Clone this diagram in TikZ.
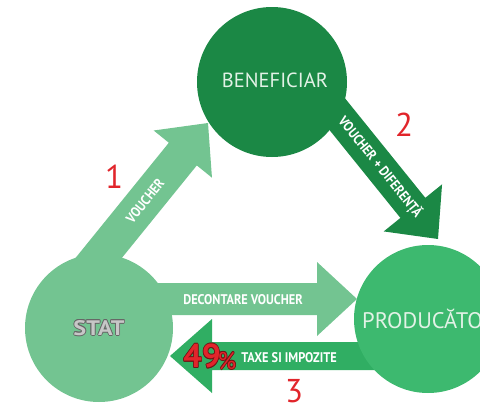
\documentclass[tikz,border=0pt]{standalone}
\usepackage{fontspec}
\usetikzlibrary{calc}
\setmainfont{PT Sans}
\newfontfamily\condf{PT Sans}[FakeStretch=0.88]
\definecolor{lightg}{HTML}{73C491}
\definecolor{darkg}{HTML}{1B8845}
\definecolor{prodg}{HTML}{3DB96F}
\definecolor{taxg}{HTML}{30AE63}
\definecolor{numred}{HTML}{E1252B}
\definecolor{labtxt}{HTML}{E2F2E6}
\newcommand\blockarrow[6]{% tail, tip, colour, shaft half width, head half width, head length
  \path (#2) coordinate (bt) ($(#2)!#6pt!(#1)$) coordinate (bh);
  \fill[#3] ($(#1)!#4pt!90:(#2)$) -- ($(bh)!#4pt!90:(bt)$) -- ($(bh)!#5pt!90:(bt)$) -- (bt)
    -- ($(bh)!#5pt!-90:(bt)$) -- ($(bh)!#4pt!-90:(bt)$) -- ($(#1)!#4pt!-90:(#2)$) -- cycle;}
\tikzset{
  circ/.style={circle, inner sep=0pt, minimum size=#1},
  arrlab/.style={text=white, font=\condf\bfseries\fontsize{14}{14}\selectfont, inner sep=0pt},
  rednum/.style={text=numred, font=\fontsize{33}{33}\selectfont, inner sep=0pt},
  biglab/.style={text=labtxt, inner sep=0pt},
  statfont/.style={font=\bfseries\fontsize{21}{21}\selectfont, inner sep=0pt},
  fortynine/.style={font=\bfseries\fontsize{33}{33}\selectfont, inner sep=0pt},
  pctfont/.style={font=\fontsize{24}{24}\selectfont, inner sep=0pt},
}
\begin{document}
\begin{tikzpicture}[x=1pt,y=-1pt]
\useasboundingbox (0,0) rectangle (480,405);
\clip (0,0) rectangle (480,405);
% circles (positions)
\node[circ=148pt, fill=lightg] (stat) at (99,328) {};
% arrow end points
\coordinate (a1s) at (63,302);
\coordinate (a1e) at (208,123);
\coordinate (a2s) at (300,68);
\coordinate (a2e) at (438,239);
\coordinate (a3s) at (130,299);
\coordinate (a3e) at (357,299);
\coordinate (a4s) at (420,356);
\coordinate (a4e) at (170,356);
% arrows
\blockarrow{a1s}{a1e}{lightg}{18}{37.5}{40}
\blockarrow{a2s}{a2e}{darkg}{16}{37.5}{40}
\blockarrow{a3s}{a3e}{lightg}{16}{37}{40}
\blockarrow{a4s}{a4e}{taxg}{14}{37}{42}
% other circles
\node[circ=150pt, fill=darkg] (ben) at (272,82) {};
\node[circ=148pt, fill=prodg] (prod) at (428,319) {};
% circle labels
\node[biglab, font=\fontsize{18}{18}\selectfont] (bent) at (275,80) {\resizebox{106pt}{!}{BENEFICIAR}};
\node[biglab, anchor=west, font=\fontsize{22.5}{22.5}\selectfont] (prodt) at (362,319) {PRODUCĂTOR};
% STAT embossed
\foreach \dx/\dy in {-0.8/0,0.8/0,0/-0.8,0/0.8,-0.6/-0.6,0.6/0.6,-0.6/0.6,0.6/-0.6}
  \node[text=black!60, statfont] at ($(stat)+(\dx,\dy)$) {\scalebox{1.15}[1]{STAT}};
\node[text=black!22, statfont] (statt) at (stat) {\scalebox{1.15}[1]{STAT}};
% arrow labels
\node[arrlab, rotate=51] (l1) at (145,201) {VOUCHER};
\node[arrlab, rotate=-51] (l2) at (380,167) {VOUCHER + DIFERENȚĂ};
\node[arrlab] (l3) at (243,300) {DECONTARE VOUCHER};
\node[arrlab] (l4) at (289,358) {TAXE SI IMPOZITE};
% 49%
\foreach \dx/\dy in {-0.7/0,0.7/0,0/-0.7,0/0.7,0.5/0.5,-0.5/-0.5,0.5/-0.5,-0.5/0.5} {
  \node[text=numred!50!black, fortynine] at (202+\dx,356+\dy) {49};
  \node[text=numred!50!black, pctfont] at (227+\dx,361+\dy) {\%};
}
\node[text=numred, fortynine] (p49) at (202,356) {49};
\node[text=numred, pctfont] (pct) at (227,361) {\%};
% red step numbers
\node[rednum] (n1) at (114,177) {1};
\node[rednum] (n2) at (404,125) {2};
\node[rednum] (n3) at (294,391) {3};
\end{tikzpicture}
\end{document}
